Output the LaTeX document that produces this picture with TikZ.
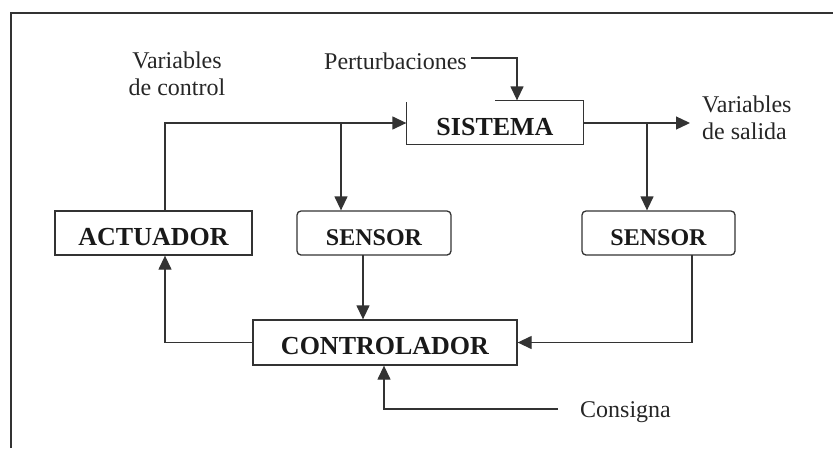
\documentclass[tikz,border=0pt]{standalone}
\usepackage{fontspec}
\setmainfont{Liberation Serif}
\usetikzlibrary{arrows.meta}
\begin{document}
\begin{tikzpicture}[x=1pt,y=-1pt,
  line/.style={line width=1.3pt, draw=black!80},
  arr/.style={line, -{Triangle[length=14pt,width=13pt]}},
  box/.style={line, inner sep=0pt, text height=24pt, text depth=0pt,
              font=\fontsize{26}{30}\selectfont\bfseries, text=black!90},
  sbox/.style={box, rounded corners=4pt, font=\fontsize{24}{28}\selectfont\bfseries},
  lbl/.style={inner sep=0pt, font=\fontsize{24}{27}\selectfont, text=black!85}]
\useasboundingbox (0,0) rectangle (833,448);
\draw[line width=1.2pt, black!80] (11,448) -- (11,13) -- (833,13);

% boxes
\node[box, minimum width=197pt, minimum height=44pt] (act) at (153.5,233) {ACTUADOR};
\node[sbox, minimum width=154pt, minimum height=44pt] (sen1) at (374,233) {SENSOR};
\node[sbox, minimum width=153pt, minimum height=44pt] (sen2) at (658.5,233) {SENSOR};
\node[box, draw=none, minimum width=176pt, minimum height=43pt, text height=25pt] (sis) at (495,122.5) {SISTEMA};
\draw[line] ([xshift=89pt]sis.north west) -- (sis.north east) -- (sis.south east)
  -- (sis.south west) -- ([yshift=-2pt]sis.north west);
\node[box, minimum width=264pt, minimum height=45pt] (ctl) at (385,342.5) {CONTROLADOR};

% labels
\node[lbl, align=center] (vc) at (177,74) {Variables\\de control};
\node[lbl] (pert) at (395.5,61) {Perturbaciones};
\node[lbl, align=left, anchor=west] (vs) at (702,118) {Variables\\de salida};
\node[lbl, anchor=west] (cons) at (580,412) {Consigna};

% coordinates
\coordinate (c1) at (165,123);
\coordinate (b1) at (341,123);
\coordinate (b2) at (647,123);
\coordinate (out) at (690,123);
\coordinate (p1) at (517,58);
\coordinate (s1) at (363,255);
\coordinate (s2) at (692,255);
\coordinate (cs) at (558,409);
\coordinate (cc) at (384,409);

% connectors
\draw[arr] (act.north -| c1) -- (c1) -- (sis.west |- c1);
\draw[arr] (b1) -- (sen1.north -| b1);
\draw[arr] ([xshift=4pt,yshift=3pt]pert.east) -- (p1) -- (sis.north -| p1);
\draw[arr] (sis.east |- c1) -- (out);
\draw[arr] (b2) -- (sen2.north -| b2);
\draw[arr] (s1) -- (ctl.north -| s1);
\draw[arr] (ctl.west) -- (ctl.west -| c1) -- (act.south -| c1);
\draw[arr] (s2) -- (s2 |- ctl.east) -- (ctl.east);
\draw[arr] (cs) -- (cc) -- (ctl.south -| cc);
\end{tikzpicture}
\end{document}
